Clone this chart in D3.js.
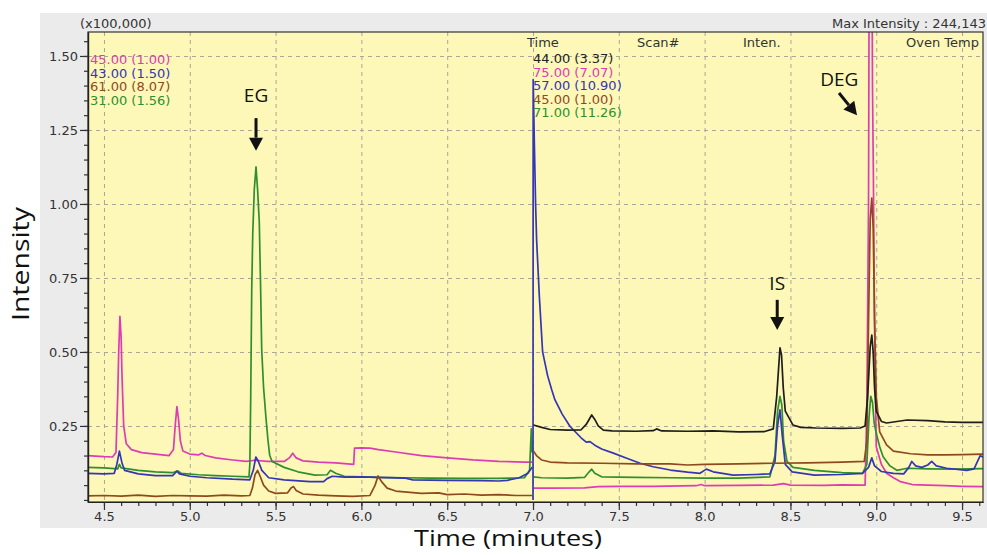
<!DOCTYPE html>
<html><head><meta charset="utf-8">
<script src="https://cdn.jsdelivr.net/npm/d3@7/dist/d3.min.js"></script>
<style>body{margin:0;background:#fff}svg{display:block}</style>
</head><body>
<svg id="c" width="987" height="555"></svg>
<script>
// ---------- tick values ----------
const xMajorTicks = [4.5, 5.0, 5.5, 6.0, 6.5, 7.0, 7.5, 8.0, 8.5, 9.0, 9.5];
const yMajorTicks = [0.25, 0.50, 0.75, 1.00, 1.25, 1.50];

// ---------- legend labels ----------
const legend1Labels = ["45.00 (1.00)", "43.00 (1.50)", "61.00 (8.07)", "31.00 (1.56)"];
const legend2Labels = ["44.00 (3.37)", "75.00 (7.07)", "57.00 (10.90)", "45.00 (1.00)", "71.00 (11.26)"];
const headerLabels = ["Time", "Scan#", "Inten.", "Oven Temp"];

// ---------- segment 1 (4.4 - 7.0 min), intensity in x100,000 ----------
const mz45a = [[4.407,0.150],[4.45,0.148],[4.50,0.146],[4.55,0.145],[4.57,0.16],[4.58,0.35],[4.586,0.50],[4.593,0.62],[4.60,0.55],[4.605,0.42],[4.615,0.25],[4.63,0.19],[4.66,0.17],[4.72,0.16],[4.80,0.155],[4.88,0.150],[4.905,0.17],[4.915,0.25],[4.925,0.315],[4.935,0.27],[4.945,0.20],[4.96,0.165],[5.00,0.155],[5.05,0.152],[5.07,0.158],[5.09,0.150],[5.15,0.142],[5.25,0.135],[5.33,0.130],[5.38,0.134],[5.45,0.130],[5.55,0.130],[5.58,0.142],[5.60,0.158],[5.62,0.142],[5.66,0.132],[5.75,0.128],[5.85,0.125],[5.955,0.120],[5.96,0.175],[6.00,0.176],[6.05,0.175],[6.10,0.170],[6.20,0.162],[6.35,0.150],[6.50,0.142],[6.65,0.135],[6.80,0.130],[6.95,0.128],[6.995,0.128]];
const mz43a = [[4.407,0.090],[4.50,0.088],[4.56,0.090],[4.575,0.12],[4.59,0.165],[4.605,0.125],[4.62,0.10],[4.70,0.088],[4.80,0.082],[4.90,0.082],[4.925,0.097],[4.94,0.088],[5.00,0.080],[5.10,0.075],[5.25,0.070],[5.35,0.068],[5.37,0.10],[5.385,0.145],[5.40,0.13],[5.42,0.10],[5.46,0.075],[5.55,0.068],[5.70,0.062],[5.78,0.062],[5.80,0.072],[5.83,0.080],[5.90,0.077],[6.00,0.078],[6.10,0.076],[6.25,0.074],[6.30,0.068],[6.50,0.066],[6.70,0.065],[6.80,0.064],[6.85,0.066],[6.92,0.075],[6.97,0.09],[6.995,0.11]];
const mz61a = [[4.407,0.014],[4.50,0.015],[4.60,0.013],[4.70,0.016],[4.80,0.012],[4.90,0.015],[5.00,0.014],[5.10,0.013],[5.20,0.016],[5.30,0.014],[5.35,0.015],[5.365,0.04],[5.38,0.085],[5.395,0.10],[5.41,0.08],[5.43,0.05],[5.46,0.03],[5.50,0.022],[5.57,0.024],[5.59,0.040],[5.605,0.045],[5.62,0.032],[5.66,0.020],[5.75,0.016],[5.85,0.014],[5.95,0.012],[6.05,0.015],[6.08,0.05],[6.097,0.081],[6.12,0.06],[6.15,0.04],[6.20,0.030],[6.25,0.027],[6.35,0.022],[6.45,0.024],[6.50,0.018],[6.60,0.020],[6.70,0.016],[6.80,0.018],[6.90,0.015],[6.995,0.015]];
const mz31a = [[4.407,0.110],[4.50,0.108],[4.58,0.105],[4.59,0.12],[4.60,0.108],[4.70,0.100],[4.80,0.095],[4.90,0.092],[4.93,0.098],[4.95,0.090],[5.05,0.085],[5.15,0.082],[5.25,0.080],[5.345,0.078],[5.35,0.12],[5.355,0.34],[5.361,0.71],[5.367,0.90],[5.376,1.05],[5.386,1.125],[5.395,1.05],[5.405,0.94],[5.413,0.71],[5.419,0.51],[5.43,0.38],[5.445,0.27],[5.456,0.20],[5.466,0.15],[5.48,0.13],[5.55,0.11],[5.63,0.095],[5.73,0.084],[5.80,0.085],[5.82,0.10],[5.85,0.09],[5.90,0.080],[6.00,0.078],[6.10,0.076],[6.25,0.075],[6.40,0.074],[6.60,0.073],[6.80,0.073],[6.95,0.075],[6.98,0.10],[6.99,0.24],[6.995,0.16]];

// ---------- segment 2 (7.0 - 9.6 min) ----------
const mz44b = [[7.003,0.253],[7.05,0.245],[7.10,0.238],[7.20,0.236],[7.28,0.237],[7.31,0.255],[7.342,0.287],[7.36,0.272],[7.38,0.25],[7.41,0.236],[7.46,0.233],[7.60,0.232],[7.70,0.234],[7.72,0.240],[7.75,0.233],[7.90,0.232],[8.05,0.233],[8.20,0.230],[8.35,0.231],[8.40,0.24],[8.42,0.35],[8.439,0.514],[8.448,0.49],[8.458,0.38],[8.47,0.30],[8.515,0.253],[8.56,0.245],[8.65,0.243],[8.80,0.242],[8.906,0.243],[8.935,0.25],[8.95,0.35],[8.965,0.52],[8.974,0.557],[8.982,0.50],[8.99,0.38],[9.00,0.30],[9.03,0.265],[9.06,0.26],[9.12,0.265],[9.18,0.27],[9.30,0.268],[9.40,0.264],[9.50,0.262],[9.622,0.262]];
const mz75b = [[7.003,0.040],[7.10,0.040],[7.30,0.041],[7.38,0.045],[7.50,0.046],[7.70,0.046],[7.95,0.048],[7.98,0.052],[8.00,0.048],[8.20,0.049],[8.40,0.050],[8.46,0.055],[8.50,0.050],[8.70,0.049],[8.80,0.051],[8.935,0.050],[8.945,0.30],[8.955,1.00],[8.962,2.44],[8.972,2.20],[8.978,1.40],[8.983,1.11],[8.99,0.60],[9.00,0.18],[9.03,0.12],[9.06,0.09],[9.10,0.075],[9.14,0.062],[9.21,0.052],[9.30,0.050],[9.40,0.048],[9.50,0.046],[9.622,0.045]];
const mz57b = [[7.000,0.0],[7.001,1.42],[7.008,1.20],[7.015,1.00],[7.021,0.878],[7.037,0.687],[7.056,0.50],[7.085,0.42],[7.109,0.372],[7.128,0.338],[7.17,0.29],[7.216,0.248],[7.28,0.21],[7.31,0.195],[7.332,0.197],[7.36,0.185],[7.40,0.172],[7.468,0.158],[7.55,0.14],[7.624,0.124],[7.70,0.112],[7.80,0.101],[7.90,0.094],[7.973,0.090],[8.01,0.104],[8.05,0.095],[8.166,0.084],[8.30,0.086],[8.38,0.088],[8.41,0.13],[8.425,0.25],[8.439,0.304],[8.452,0.22],[8.47,0.12],[8.51,0.095],[8.64,0.084],[8.80,0.086],[8.92,0.09],[8.955,0.11],[8.974,0.142],[8.99,0.115],[9.03,0.096],[9.10,0.09],[9.16,0.088],[9.19,0.11],[9.207,0.13],[9.23,0.115],[9.265,0.11],[9.30,0.118],[9.323,0.13],[9.35,0.115],[9.41,0.107],[9.527,0.10],[9.57,0.105],[9.59,0.13],[9.605,0.149],[9.622,0.145]];
const mz45b = [[7.003,0.165],[7.02,0.150],[7.05,0.135],[7.10,0.128],[7.20,0.125],[7.40,0.124],[7.60,0.122],[7.80,0.122],[7.90,0.118],[8.00,0.120],[8.20,0.122],[8.40,0.124],[8.60,0.125],[8.80,0.128],[8.93,0.130],[8.945,0.20],[8.955,0.60],[8.965,0.95],[8.974,1.02],[8.982,0.92],[8.99,0.62],[9.00,0.35],[9.02,0.23],[9.06,0.186],[9.10,0.165],[9.20,0.156],[9.30,0.152],[9.40,0.152],[9.50,0.153],[9.622,0.155]];
const mz71b = [[7.003,0.078],[7.05,0.075],[7.20,0.074],[7.30,0.076],[7.32,0.09],[7.342,0.104],[7.36,0.09],[7.40,0.078],[7.60,0.076],[7.80,0.075],[8.00,0.074],[8.20,0.074],[8.38,0.078],[8.41,0.15],[8.425,0.30],[8.439,0.35],[8.45,0.32],[8.46,0.20],[8.48,0.13],[8.515,0.11],[8.64,0.10],[8.80,0.092],[8.92,0.09],[8.945,0.12],[8.958,0.28],[8.968,0.35],[8.978,0.33],[8.988,0.26],[9.00,0.225],[9.02,0.18],[9.04,0.146],[9.08,0.115],[9.12,0.10],[9.18,0.107],[9.30,0.105],[9.45,0.104],[9.622,0.106]];

// ---------- styles ----------
const C = {magenta:"#de3cb4", blue:"#3535b5", brown:"#8e4a1e", green:"#2f8f2f", black:"#1e1e1e"};
const seg1 = [{d:mz45a,c:C.magenta},{d:mz31a,c:C.green},{d:mz43a,c:C.blue},{d:mz61a,c:C.brown}];
const seg2 = [{d:mz75b,c:C.magenta},{d:mz71b,c:C.green},{d:mz57b,c:C.blue},{d:mz45b,c:C.brown},{d:mz44b,c:C.black}];
const legend1Colors = [C.magenta, C.blue, C.brown, C.green];
const legend2Colors = ["#222", C.magenta, C.blue, C.brown, C.green];

const svg = d3.select("#c");
const L = 88, R = 983, T = 32, B = 502;
const x = d3.scaleLinear().domain([4.407, 9.622]).range([L, R]);
const y = d3.scaleLinear().domain([-0.007, 1.581]).range([B, T]);

// panel
svg.append("rect").attr("x",40).attr("y",13).attr("width",947).attr("height",515).attr("fill","#ebebeb");
svg.append("rect").attr("x",L).attr("y",T).attr("width",R-L).attr("height",B-T).attr("fill","#fdf8b8");

// grid
const grid = svg.append("g").attr("stroke","#a9a69a").attr("stroke-width",1).attr("stroke-dasharray","4,4");
grid.selectAll("line.v").data(xMajorTicks).join("line").attr("x1",d=>x(d)+0.5).attr("x2",d=>x(d)+0.5).attr("y1",T).attr("y2",B);
grid.selectAll("line.h").data(yMajorTicks).join("line").attr("x1",L).attr("x2",R).attr("y1",d=>Math.round(y(d))+0.5).attr("y2",d=>Math.round(y(d))+0.5);

// clip
svg.append("clipPath").attr("id","clip").append("rect").attr("x",L).attr("y",T).attr("width",R-L).attr("height",B-T);
const line = d3.line().x(d=>x(d[0])).y(d=>y(d[1]));
const plot = svg.append("g").attr("clip-path","url(#clip)");
[...seg1, ...seg2].forEach(s=>{
  plot.append("path").attr("d",line(s.d)).attr("fill","none").attr("stroke",s.c).attr("stroke-width",1.7).attr("stroke-linejoin","round");
});

// frame
svg.append("rect").attr("x",L).attr("y",T).attr("width",R-L).attr("height",B-T).attr("fill","none").attr("stroke","#333").attr("stroke-width",1.2);

// axes
const minorY = d3.range(0, 1.58, 0.05).map(v=>+v.toFixed(2));
const minorX = d3.range(4.5, 9.62, 0.1).map(v=>+v.toFixed(1));
const fontTick = "DejaVu Sans, Verdana, sans-serif";
const gy = svg.append("g").attr("transform",`translate(${L},0)`).call(d3.axisLeft(y).tickValues(minorY).tickSize(4).tickFormat("").tickSizeOuter(0));
const gy2 = svg.append("g").attr("transform",`translate(${L},0)`).call(d3.axisLeft(y).tickValues(yMajorTicks).tickSize(8).tickPadding(2).tickFormat(d3.format(".2f")).tickSizeOuter(0));
const gx = svg.append("g").attr("transform",`translate(0,${B})`).call(d3.axisBottom(x).tickValues(minorX).tickSize(4).tickFormat("").tickSizeOuter(0));
const gx2 = svg.append("g").attr("transform",`translate(0,${B})`).call(d3.axisBottom(x).tickValues(xMajorTicks).tickSize(8).tickPadding(2).tickFormat(d3.format(".1f")).tickSizeOuter(0));
[gy,gy2,gx,gx2].forEach(g=>{g.select(".domain").attr("stroke","#222").attr("stroke-width",1.2); g.selectAll(".tick line").attr("stroke","#333").attr("stroke-width",1.2);
  g.selectAll("text").attr("font-family",fontTick).attr("font-size",13).attr("fill","#333");});

// header texts
const small = (t,xx,yy,anchor,col)=>svg.append("text").attr("x",xx).attr("y",yy).attr("text-anchor",anchor||"start").attr("fill",col||"#333").attr("font-family",fontTick).attr("font-size",13).text(t);
small("(x100,000)", 80, 28);
small("Max Intensity : 244,143", 986, 28, "end");
small(headerLabels[0], 527, 47); small(headerLabels[1], 637, 47); small(headerLabels[2], 743, 47); small(headerLabels[3], 979, 47, "end");
legend1Labels.forEach((t,i)=>small(t, 90, 64+i*13.5, "start", legend1Colors[i]));
legend2Labels.forEach((t,i)=>small(t, 533, 63+i*13.5, "start", legend2Colors[i]));

// axis titles
const fontTitle = "'Open Sans', sans-serif";
svg.append("text").attr("transform",`translate(29,${264}) rotate(-90)`).attr("text-anchor","middle").attr("font-family",fontTitle).attr("font-size",23)
  .attr("textLength",114).attr("lengthAdjust","spacingAndGlyphs").attr("fill","#111").text("Intensity");
svg.append("text").attr("x",508).attr("y",546).attr("text-anchor","middle").attr("font-family",fontTitle).attr("font-size",21)
  .attr("textLength",188).attr("lengthAdjust","spacingAndGlyphs").attr("fill","#111").text("Time (minutes)");

// annotations (placed in data coordinates)
const ann = (t, tx, ty) => svg.append("text").attr("x",x(tx)).attr("y",y(ty)).attr("text-anchor","middle").attr("font-family",fontTitle).attr("font-size",19).attr("fill","#111").text(t);
ann("EG", 5.386, 1.345); ann("IS", 8.423, 0.709); ann("DEG", 8.785, 1.40);
function arrow(x1,y1,x2,y2){
  const X1=x(x1),Y1=y(y1),X2=x(x2),Y2=y(y2);
  const a=Math.atan2(Y2-Y1,X2-X1), hl=13, hw=7;
  const bx=X2-hl*Math.cos(a), by=Y2-hl*Math.sin(a);
  svg.append("line").attr("x1",X1).attr("y1",Y1).attr("x2",bx).attr("y2",by).attr("stroke","#111").attr("stroke-width",3);
  svg.append("path").attr("d",`M${X2},${Y2}L${bx+hw*Math.sin(a)},${by-hw*Math.cos(a)}L${bx-hw*Math.sin(a)},${by+hw*Math.cos(a)}Z`).attr("fill","#111");
}
arrow(5.386, 1.29, 5.386, 1.18);
arrow(8.423, 0.676, 8.423, 0.574);
arrow(8.783, 1.375, 8.888, 1.30);
</script>
</body></html>
